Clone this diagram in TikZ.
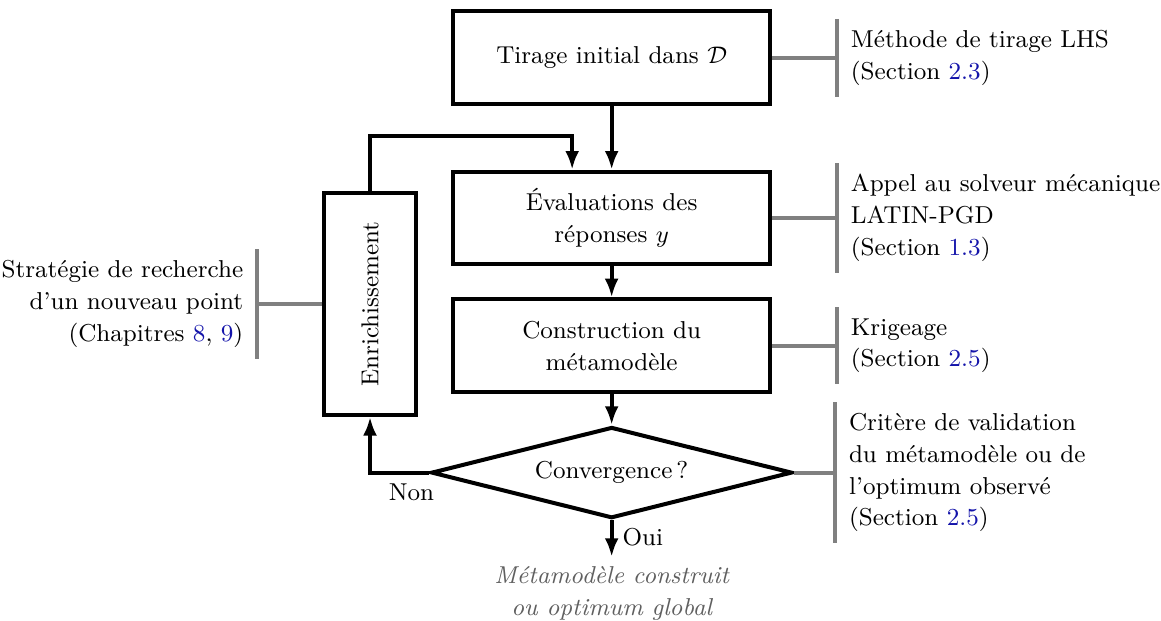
\documentclass[tikz,border=0pt]{standalone}
\usepackage{amsmath}
\usepackage{amssymb}
\usepackage{graphicx}
\usepackage{tikz}
\definecolor{linkblue}{RGB}{20,20,170}
\definecolor{notegray}{RGB}{128,128,128}
\definecolor{outgray}{RGB}{95,95,95}
\usetikzlibrary{arrows.meta}
\usetikzlibrary{shapes,positioning}
\newcommand{\fcfont}{\fontsize{9.15}{11.9}\selectfont}
\tikzset{
  every node/.style = {font=\fcfont},
  fc_box/.style = {rectangle, draw=black, line width=1.5pt, align=center,
    minimum width=4.18cm, minimum height=1.22cm},% etape du schema
  fc_enr/.style = {rectangle, draw=black, line width=1.5pt,
    minimum width=1.22cm, minimum height=2.92cm},% boite verticale
  fc_diam/.style = {diamond, aspect=4, draw=black, line width=1.5pt,
    minimum width=4.75cm, minimum height=1.2cm, inner sep=1pt},% test
  fc_arrow/.style = {-{Latex[length=7pt,width=5.2pt]}, black, line width=1.5pt},
  fc_note/.style = {align=left, inner xsep=5pt, inner ysep=4pt},% commentaire
  fc_bar/.style = {-, notegray, line width=1.5pt},
  fc_out/.style = {outgray, font=\fcfont\itshape, align=center},
}
\newcommand{\lnk}[1]{\textcolor{linkblue}{#1}}

\begin{document}
\begin{tikzpicture}
  \useasboundingbox (0,0) rectangle (15.28,-8.17);

  \node[fc_box] (tir) at (8.05,-0.76) {Tirage initial dans $\mathcal{D}$};
  \node[fc_box] (eval) at (8.05,-2.87) {Évaluations des\\réponses $y$};
  \node[fc_box] (cons) at (8.05,-4.55) {Construction du\\métamodèle};
  \node[fc_diam] (conv) at (8.05,-6.22) {Convergence\,?};
  \node[fc_enr] (enr) at (4.87,-4.0) {\rotatebox{90}{Enrichissement}};

  \coordinate (boucle) at (7.53,-1.79);
  \coordinate (fin) at (8.05,-7.33);
  \node[fc_out, below=0pt of fin] (res) {Métamodèle construit\\ou optimum global};

  %   commentaires
  \node[fc_note, right=0.85cm of tir] (n_tir) {Méthode de tirage LHS\\(Section \lnk{2.3})};
  \node[fc_note, right=0.85cm of eval] (n_eval) {Appel au solveur mécanique\\LATIN-PGD\\(Section \lnk{1.3})};
  \node[fc_note, right=0.85cm of cons] (n_cons) {Krigeage\\(Section \lnk{2.5})};
  \node[fc_note, right=0.54cm of conv] (n_conv) {Critère de validation\\du métamodèle ou de\\l’optimum observé\\(Section \lnk{2.5})};
  \node[fc_note, align=right, left=0.85cm of enr] (n_enr) {Stratégie de recherche\\d’un nouveau point\\(Chapitres \lnk{8}, \lnk{9})};

  %   fleches
  \path[fc_arrow] (tir) edge (eval);
  \path[fc_arrow] (eval) edge (cons);
  \path[fc_arrow] (cons) edge (conv);
  \draw[fc_arrow] (conv.south) -- node[right, pos=0.45] {Oui} (fin);
  \draw[fc_arrow] (conv.west) -| node[below, pos=0.15] {Non} (enr.south);
  \draw[fc_arrow] (enr.north) |- (boucle) -- (boucle |- eval.north);

  %   renvois
  \foreach \b/\n in {tir/n_tir, eval/n_eval, cons/n_cons, conv/n_conv} {
    \draw[fc_bar] (\b.east) -- (\n.west);
    \draw[fc_bar] (\n.north west) -- (\n.south west);
  }
  \draw[fc_bar] (enr.west) -- (n_enr.east);
  \draw[fc_bar] (n_enr.north east) -- (n_enr.south east);
\end{tikzpicture}
\end{document}
